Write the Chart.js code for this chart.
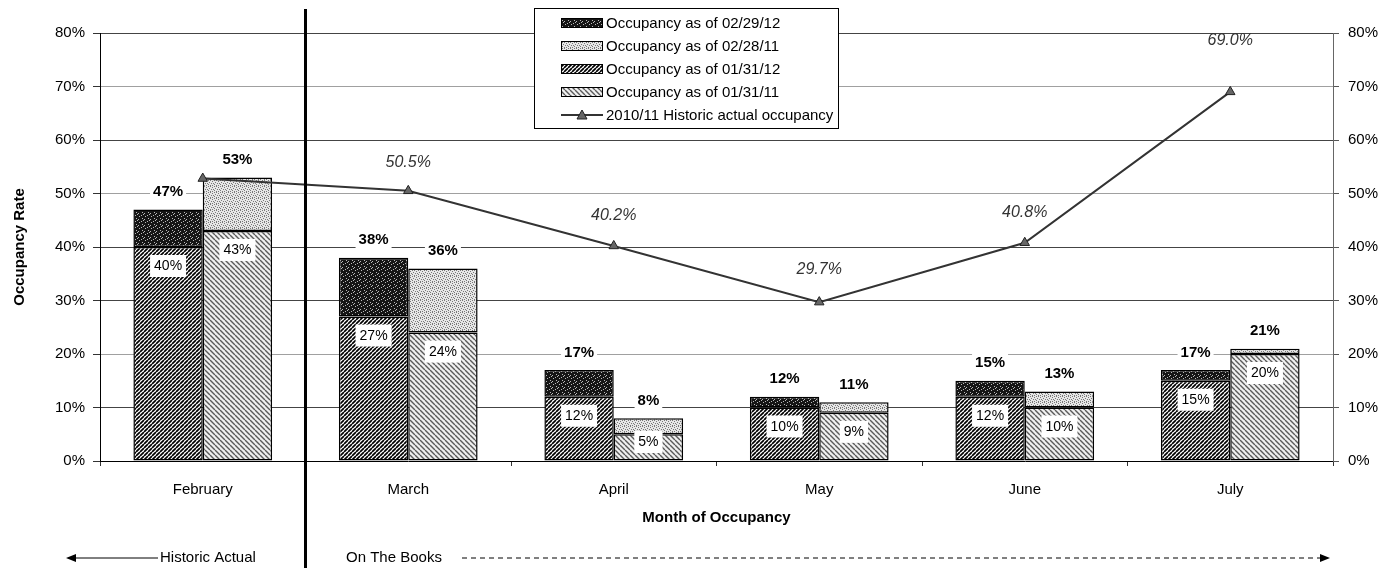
<!DOCTYPE html>
<html>
<head>
<meta charset="utf-8">
<script src="https://cdn.jsdelivr.net/npm/chart.js@4/dist/chart.umd.min.js"></script>
<style>
  html, body { margin: 0; padding: 0; background: #fff; }
  #wrap { width: 1393px; height: 571px; position: relative; }
</style>
</head>
<body>
<div id="wrap"><canvas id="c" width="1393" height="571"></canvas></div>
<script>
// ---- Data ----
const months = ['February', 'March', 'April', 'May', 'June', 'July'];
const asOf013112 = [40, 27, 12, 10, 12, 15];   // occupancy as of 01/31/12
const asOf022912 = [47, 38, 17, 12, 15, 17];   // occupancy as of 02/29/12
const asOf013111 = [43, 24, 5, 9, 10, 20];     // occupancy as of 01/31/11
const asOf022811 = [53, 36, 8, 11, 13, 21];    // occupancy as of 02/28/11
const historic   = [52.8, 50.5, 40.2, 29.7, 40.8, 69.0]; // 2010/11 historic actual
const yTicks = [0, 10, 20, 30, 40, 50, 60, 70, 80];

const FONT = "'Liberation Sans', Arial, sans-serif";

// ---- Fill patterns ----
function makePattern(w, h, draw) {
  const c = document.createElement('canvas');
  c.width = w; c.height = h;
  const g = c.getContext('2d');
  draw(g, w, h);
  return g.createPattern(c, 'repeat');
}
function dots(g, list) { list.forEach(([px, py]) => g.fillRect(px, py, 1, 1)); }

// forward hatch, dark
const patHatchDark = makePattern(4, 4, (g, w, h) => {
  g.fillStyle = '#fff'; g.fillRect(0, 0, w, h);
  g.strokeStyle = '#000'; g.lineWidth = 1.7;
  g.beginPath();
  for (let k = -1; k <= 1; k++) { g.moveTo(k * w, h); g.lineTo(k * w + w, 0); }
  g.stroke();
});
// back hatch, grey
const patHatchLight = makePattern(5, 5, (g, w, h) => {
  g.fillStyle = '#f0f0f0'; g.fillRect(0, 0, w, h);
  g.strokeStyle = '#5a5a5a'; g.lineWidth = 1.4;
  g.beginPath();
  for (let k = -1; k <= 1; k++) { g.moveTo(k * w, 0); g.lineTo(k * w + w, h); }
  g.stroke();
});
// dense dark stipple
const patDotDark = makePattern(6, 6, (g, w, h) => {
  g.fillStyle = '#151515'; g.fillRect(0, 0, w, h);
  g.fillStyle = 'rgba(255,255,255,0.7)';
  dots(g, [[1, 0], [4, 2], [0, 3], [3, 5], [5, 4]]);
});
// light stipple
const patDotLight = makePattern(6, 6, (g, w, h) => {
  g.fillStyle = '#e6e6e6'; g.fillRect(0, 0, w, h);
  g.fillStyle = '#777';
  dots(g, [[0, 0], [4, 0], [2, 1], [5, 2], [1, 3], [3, 3], [4, 4], [0, 5], [2, 5]]);
});

const barCommon = {
  type: 'bar',
  borderColor: '#000',
  borderWidth: 1.5,
  borderSkipped: false,
  barPercentage: 1.0,
  categoryPercentage: 0.675,
  order: 1
};

const datasets = [
  {
    type: 'line',
    label: '2010/11 Historic actual occupancy',
    data: historic,
    order: 0,
    borderColor: '#333',
    borderWidth: 2,
    pointStyle: 'triangle',
    pointRadius: 5.5,
    pointBackgroundColor: '#666',
    pointBorderColor: '#222',
    pointBorderWidth: 1,
    tension: 0
  },
  Object.assign({}, barCommon, {
    label: 'Occupancy as of 01/31/12', stack: 'y12',
    data: asOf013112, backgroundColor: patHatchDark
  }),
  Object.assign({}, barCommon, {
    label: 'Occupancy as of 02/29/12', stack: 'y12',
    data: asOf013112.map((b, i) => [b, asOf022912[i]]), backgroundColor: patDotDark
  }),
  Object.assign({}, barCommon, {
    label: 'Occupancy as of 01/31/11', stack: 'y11',
    data: asOf013111, backgroundColor: patHatchLight
  }),
  Object.assign({}, barCommon, {
    label: 'Occupancy as of 02/28/11', stack: 'y11',
    data: asOf013111.map((b, i) => [b, asOf022811[i]]), backgroundColor: patDotLight
  })
];

// Legend entry order: dataset indexes
const legendOrder = [2, 4, 1, 3, 0];
// Extra lift for the historic value labels (px above the point)
const lineLabelLift = [0, 28, 30, 33, 30, 51];

function labelBox(ctx, text, cx, cy, font, padX, h) {
  ctx.font = font;
  const w = ctx.measureText(text).width + padX * 2;
  ctx.fillStyle = '#fff';
  ctx.fillRect(cx - w / 2, cy - h / 2, w, h);
  ctx.fillStyle = '#000';
  ctx.textAlign = 'center';
  ctx.textBaseline = 'middle';
  ctx.fillText(text, cx, cy + 0.5);
}

const decorations = {
  id: 'decorations',
  afterDatasetsDraw(chart) {
    const ctx = chart.ctx;
    const y = chart.scales.y;
    const base = y.getPixelForValue(0);
    ctx.save();
    // bar value labels
    [[1, 2], [3, 4]].forEach(([lowIdx, topIdx]) => {
      const lowMeta = chart.getDatasetMeta(lowIdx);
      const topMeta = chart.getDatasetMeta(topIdx);
      const lowVals = lowIdx === 1 ? asOf013112 : asOf013111;
      const topVals = topIdx === 2 ? asOf022912 : asOf022811;
      lowMeta.data.forEach((bar, i) => {
        const top = y.getPixelForValue(lowVals[i]);
        const cy = Math.min(top + 19, base - 19);
        labelBox(ctx, lowVals[i] + '%', bar.x, cy, `14px ${FONT}`, 4, 22);
      });
      topMeta.data.forEach((bar, i) => {
        const top = y.getPixelForValue(topVals[i]);
        labelBox(ctx, topVals[i] + '%', bar.x, top - 18, `bold 15px ${FONT}`, 3, 18);
      });
    });
    // historic line value labels
    const lineMeta = chart.getDatasetMeta(0);
    ctx.font = `italic 16px ${FONT}`;
    ctx.fillStyle = '#333';
    ctx.textAlign = 'center';
    ctx.textBaseline = 'middle';
    lineMeta.data.forEach((pt, i) => {
      if (i === 0) return;
      ctx.fillText(historic[i].toFixed(1) + '%', pt.x, pt.y - lineLabelLift[i]);
    });
    ctx.restore();
  },
  afterDraw(chart) {
    const ctx = chart.ctx;
    const x = chart.scales.x;
    ctx.save();
    // divider between actual and on-the-books months
    const divX = (x.getPixelForValue(0) + x.getPixelForValue(1)) / 2;
    ctx.strokeStyle = '#000';
    ctx.lineWidth = 3;
    ctx.beginPath();
    ctx.moveTo(divX, 9);
    ctx.lineTo(divX, 568);
    ctx.stroke();

    // bottom annotations
    const ay = 558;
    ctx.lineWidth = 1;
    ctx.fillStyle = '#000';
    ctx.beginPath();
    ctx.moveTo(74, ay); ctx.lineTo(158, ay); ctx.stroke();
    ctx.beginPath();
    ctx.moveTo(66, ay); ctx.lineTo(76, ay - 4); ctx.lineTo(76, ay + 4); ctx.closePath(); ctx.fill();
    ctx.font = `15px ${FONT}`;
    ctx.textAlign = 'left';
    ctx.textBaseline = 'middle';
    ctx.fillText('Historic Actual', 160, ay);
    ctx.fillText('On The Books', 346, ay);
    ctx.setLineDash([5, 4]);
    ctx.beginPath();
    ctx.moveTo(462, ay); ctx.lineTo(1320, ay); ctx.stroke();
    ctx.setLineDash([]);
    ctx.beginPath();
    ctx.moveTo(1330, ay); ctx.lineTo(1320, ay - 4); ctx.lineTo(1320, ay + 4); ctx.closePath(); ctx.fill();

    // legend
    const lx = 534, ly = 8, lw = 304, lh = 120;
    ctx.fillStyle = '#fff';
    ctx.fillRect(lx, ly, lw, lh);
    ctx.strokeStyle = '#000';
    ctx.lineWidth = 1;
    ctx.strokeRect(lx + 0.5, ly + 0.5, lw, lh);
    legendOrder.forEach((di, k) => {
      const ds = chart.data.datasets[di];
      const cy = 23 + k * 23;
      if (ds.type === 'line') {
        ctx.strokeStyle = '#333';
        ctx.lineWidth = 2;
        ctx.beginPath(); ctx.moveTo(561, cy); ctx.lineTo(603, cy); ctx.stroke();
        ctx.fillStyle = '#666';
        ctx.strokeStyle = '#222';
        ctx.lineWidth = 1;
        ctx.beginPath();
        ctx.moveTo(582, cy - 5); ctx.lineTo(587, cy + 4); ctx.lineTo(577, cy + 4); ctx.closePath();
        ctx.fill(); ctx.stroke();
      } else {
        ctx.fillStyle = ds.backgroundColor;
        ctx.fillRect(561, cy - 5, 42, 10);
        ctx.strokeStyle = '#000';
        ctx.lineWidth = 1;
        ctx.strokeRect(561.5, cy - 4.5, 41, 9);
      }
      ctx.fillStyle = '#000';
      ctx.font = `15px ${FONT}`;
      ctx.textAlign = 'left';
      ctx.textBaseline = 'middle';
      ctx.fillText(ds.label, 606, cy + 0.5);
    });
    ctx.restore();
  }
};

const tickFont = { family: FONT, size: 15 };
const pctTicks = {
  stepSize: 10,
  font: tickFont,
  color: '#000',
  callback: v => v + '%'
};

new Chart(document.getElementById('c'), {
  data: { labels: months, datasets },
  options: {
    responsive: false,
    animation: false,
    devicePixelRatio: 1,
    layout: { padding: { top: 33, left: 0, right: 0, bottom: 0 } },
    plugins: { legend: { display: false }, tooltip: { enabled: false } },
    scales: {
      x: {
        type: 'category',
        offset: true,
        grid: { display: true, drawOnChartArea: false, drawTicks: true, tickLength: 5, offset: true, color: '#333' },
        border: { display: true, color: '#000', width: 1 },
        ticks: { font: tickFont, color: '#000', padding: 15, maxRotation: 0, autoSkip: false },
        title: {
          display: true, text: 'Month of Occupancy', color: '#000',
          font: { family: FONT, size: 15, weight: 'bold' },
          padding: { top: 0, bottom: 44 }
        },
        afterFit(s) { s.height = 110; }
      },
      y: {
        position: 'left',
        min: 0, max: 80,
        stacked: false,
        afterBuildTicks(s) { s.ticks = yTicks.map(v => ({ value: v })); },
        ticks: Object.assign({ padding: 8 }, pctTicks),
        grid: {
          tickLength: 7,
          tickColor: '#333',
          color: c => {
            const v = c.tick && c.tick.value;
            if (v === 0) return 'rgba(0,0,0,0)';
            return (v === 20 || v === 50 || v === 70) ? '#a0a0a0' : '#444';
          }
        },
        border: { display: true, color: '#000', width: 1 },
        title: {
          display: true, text: 'Occupancy Rate', color: '#000',
          font: { family: FONT, size: 15, weight: 'bold' },
          padding: { top: 11, bottom: 0 }
        },
        afterFit(s) { s.width = 100; }
      },
      y2: {
        position: 'right',
        min: 0, max: 80,
        afterBuildTicks(s) { s.ticks = yTicks.map(v => ({ value: v })); },
        ticks: Object.assign({ padding: 9 }, pctTicks),
        grid: { drawOnChartArea: false, tickLength: 6, color: '#555' },
        border: { display: true, color: '#666', width: 1 },
        afterFit(s) { s.width = 60; }
      }
    }
  },
  plugins: [decorations]
});
</script>
</body>
</html>
